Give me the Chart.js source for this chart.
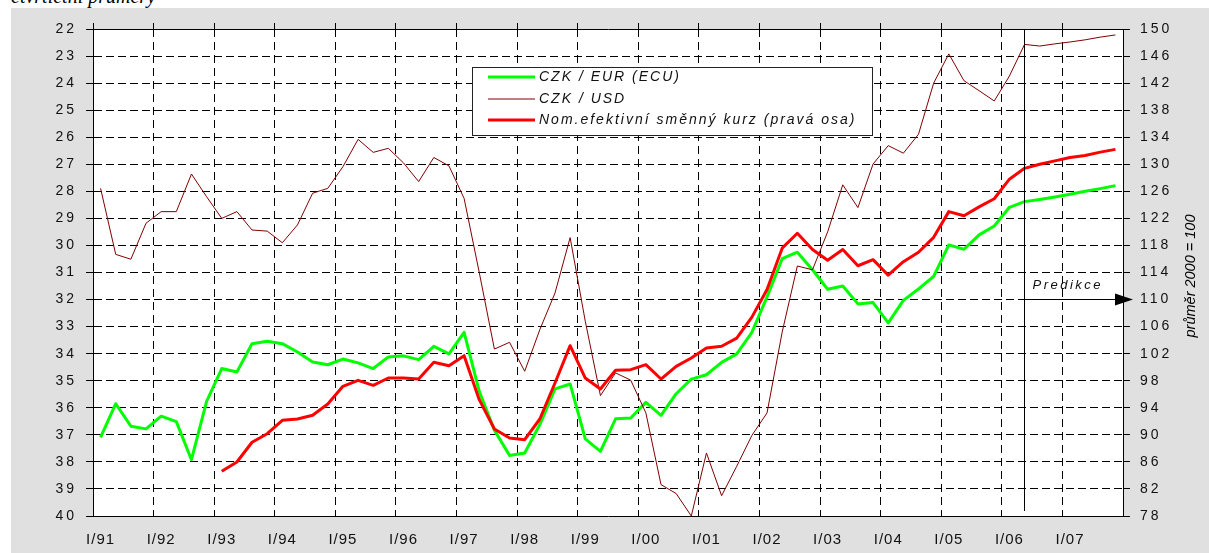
<!DOCTYPE html>
<html>
<head>
<meta charset="utf-8">
<script src="https://cdn.jsdelivr.net/npm/chart.js@4.4.0/dist/chart.umd.min.js"></script>
<style>
html, body { margin: 0; padding: 0; background: #fff; overflow: hidden; }
#wrap { position: relative; width: 1209px; height: 553px; }
#bg { position: absolute; left: 11px; top: 8px; right: 0; bottom: 0; background: #e0e0e0; }
#title { position: absolute; left: 11px; top: -15px; font: italic 20px "Liberation Serif", serif; white-space: nowrap; color: #000; }
#rtitle { position: absolute; left: 1090px; top: 268px; width: 200px; height: 16px; line-height: 16px; text-align: center;
          font: italic 14.5px "Liberation Sans", Arial, sans-serif; color: #000; transform: rotate(-90deg); white-space: nowrap; }
canvas { position: absolute; left: 0; top: 0; }
</style>
</head>
<body>
<div id="wrap">
  <div id="bg"></div>
  <div id="title">čtvrtletní průměry</div>
  <canvas id="chart" width="1209" height="553"></canvas>
  <div id="rtitle">průměr 2000 = 100</div>
</div>
<script>
// quarters I/91 .. IV/07
const years = ['91','92','93','94','95','96','97','98','99','00','01','02','03','04','05','06','07'];
const quarterNames = ['I','II','III','IV'];
const quarters = [];
years.forEach(y => quarterNames.forEach(q => quarters.push(q + '/' + y)));

// CZK / EUR (ECU), left axis
const czkEur = [
  37.09, 35.85, 36.68, 36.78, 36.31, 36.51, 37.92, 35.76,
  34.55, 34.68, 33.63, 33.54, 33.63, 33.94, 34.31, 34.41,
  34.20, 34.34, 34.55, 34.12, 34.08, 34.22, 33.73, 34.01,
  33.21, 35.39, 36.83, 37.76, 37.67, 36.62, 35.30, 35.12,
  37.15, 37.61, 36.41, 36.38, 35.80, 36.28, 35.48, 34.94,
  34.78, 34.32, 34.01, 33.21, 31.90, 30.49, 30.25, 30.90,
  31.62, 31.50, 32.16, 32.11, 32.86, 32.03, 31.61, 31.14,
  29.98, 30.14, 29.61, 29.28, 28.59, 28.38, 28.30, 28.21,
  28.11, 28.00, 27.90, 27.79
];

// CZK / USD, left axis
const czkUsd = [
  27.89, 30.33, 30.51, 29.18, 28.75, 28.75, 27.36, 28.20,
  29.00, 28.75, 29.43, 29.47, 29.90, 29.24, 28.07, 27.89,
  27.09, 26.08, 26.56, 26.41, 26.95, 27.64, 26.75, 27.06,
  28.26, 31.00, 33.83, 33.58, 34.65, 33.11, 31.76, 29.71,
  32.80, 35.55, 34.71, 34.98, 36.19, 38.84, 39.17, 40.00,
  37.67, 39.25, 38.16, 37.02, 36.19, 33.20, 30.76, 30.90,
  29.50, 27.76, 28.60, 26.99, 26.31, 26.59, 25.89, 24.00,
  22.92, 23.91, 24.28, 24.66, 23.74, 22.57, 22.63, 22.55,
  22.48, 22.40, 22.30, 22.22
];

// nominal effective exchange rate, right axis (2000 = 100)
const nomEff = [
  null, null, null, null, null, null, null, null,
  84.61, 85.98, 88.90, 90.17, 92.15, 92.34, 92.89, 94.56,
  97.17, 98.06, 97.32, 98.40, 98.40, 98.25, 100.72, 100.22,
  101.70, 95.20, 90.86, 89.53, 89.28, 92.34, 97.66, 103.18,
  98.40, 96.78, 99.54, 99.63, 100.37, 98.25, 100.13, 101.36,
  102.84, 103.09, 104.30, 107.40, 111.50, 117.60, 119.80, 117.40,
  115.80, 117.40, 115.00, 115.90, 113.60, 115.60, 117.00, 119.20,
  123.00, 122.40, 123.70, 124.90, 127.80, 129.40, 130.00, 130.50,
  131.00, 131.30, 131.80, 132.20
];

const leftTicks = { min: 22, max: 40, step: 1 };
const rightTicks = { min: 78, max: 150, step: 4 };
const predictionStart = 61;   // II/06
const predictionLevel = 110;  // arrow height on right axis

const FONT = '"Liberation Sans", Arial, sans-serif';
Chart.defaults.font.family = FONT;
Chart.defaults.font.size = 14;
Chart.defaults.color = '#111';

const yearLine = c => (c.index % 4 === 0 ? 1 : 0);
const crisp = p => Math.round(p - 0.5) + 0.5;

const decor = {
  id: 'decor',
  beforeUpdate(chart) { chart.ctx.letterSpacing = '3px'; },
  beforeDraw(chart) {
    const { ctx, chartArea: a } = chart;
    ctx.letterSpacing = '3px';
    // x labels are set tighter than the value axes
    const xs = chart.scales.x;
    if (!xs._tight) {
      const orig = xs.drawLabels.bind(xs);
      xs.drawLabels = area => {
        const prev = xs.ctx.letterSpacing;
        xs.ctx.letterSpacing = '1px';
        orig(area);
        xs.ctx.letterSpacing = prev;
      };
      xs._tight = true;
    }
    ctx.save();
    ctx.fillStyle = '#fff';
    ctx.fillRect(a.left, a.top, a.right - a.left, a.bottom - a.top);
    ctx.restore();
  },
  afterDraw(chart) {
    const { ctx, chartArea: a } = chart;
    const xs = chart.scales.x, yr = chart.scales.y1;
    ctx.save();
    ctx.setLineDash([]);
    // prediction marker
    const px = crisp(xs.getPixelForValue(predictionStart));
    const py = crisp(yr.getPixelForValue(predictionLevel));
    ctx.strokeStyle = '#000';
    ctx.lineWidth = 1;
    ctx.beginPath();
    ctx.moveTo(px, a.top);
    ctx.lineTo(px, a.bottom - 5);
    ctx.moveTo(px, py);
    ctx.lineTo(a.right - 8, py);
    ctx.stroke();
    ctx.fillStyle = '#000';
    ctx.beginPath();
    ctx.moveTo(a.right - 8, py - 6);
    ctx.lineTo(a.right + 10, py);
    ctx.lineTo(a.right - 8, py + 6);
    ctx.closePath();
    ctx.fill();
    ctx.letterSpacing = '2.5px';
    ctx.font = 'italic 13px ' + FONT;
    ctx.textBaseline = 'alphabetic';
    ctx.fillStyle = '#111';
    ctx.fillText('Predikce', px + 8, py - 11);

    // legend
    const bx = 472.5, by = 67.5, bw = 400, bh = 68;
    ctx.fillStyle = '#fff';
    ctx.fillRect(bx, by, bw, bh);
    ctx.strokeStyle = '#222';
    ctx.lineWidth = 1;
    ctx.strokeRect(bx, by, bw, bh);
    const rows = [
      { text: 'CZK / EUR (ECU)', color: '#00ff00', w: 3, y: 77 },
      { text: 'CZK / USD', color: '#800000', w: 1, y: 99 },
      { text: 'Nom.efektivní směnný kurz (pravá osa)', color: '#ff0000', w: 3, y: 120 }
    ];
    ctx.font = 'italic 14px ' + FONT;
    ctx.letterSpacing = '2px';
    ctx.textBaseline = 'middle';
    rows.forEach(r => {
      ctx.strokeStyle = r.color;
      ctx.lineWidth = r.w;
      ctx.beginPath();
      ctx.moveTo(488, r.y);
      ctx.lineTo(535, r.y);
      ctx.stroke();
      ctx.fillStyle = '#111';
      ctx.fillText(r.text, 539, r.y);
    });
    ctx.restore();
  }
};

new Chart(document.getElementById('chart').getContext('2d'), {
  type: 'line',
  data: {
    labels: quarters,
    datasets: [
      { label: 'CZK / EUR (ECU)', data: czkEur, yAxisID: 'y', borderColor: '#00ff00', borderWidth: 3, order: 2 },
      { label: 'CZK / USD', data: czkUsd, yAxisID: 'y', borderColor: '#800000', borderWidth: 1, order: 1 },
      { label: 'Nom.efektivní směnný kurz (pravá osa)', data: nomEff, yAxisID: 'y1', borderColor: '#ff0000', borderWidth: 3, order: 0 }
    ]
  },
  options: {
    responsive: false,
    animation: false,
    events: [],
    layout: { padding: 0 },
    elements: { point: { radius: 0 }, line: { tension: 0, borderJoinStyle: 'round' } },
    plugins: { legend: { display: false }, tooltip: { enabled: false } },
    scales: {
      x: {
        position: 'bottom',
        offset: true,
        grid: { offset: true, color: '#000', lineWidth: yearLine, drawTicks: false },
        border: { display: true, color: '#000', width: 1, dash: [8, 5] },
        ticks: {
          autoSkip: false, maxRotation: 0, minRotation: 0, padding: 15,
          font: { size: 15 },
          callback: function (v, i) { return i % 4 === 0 ? this.getLabelForValue(v) : ''; }
        },
        afterFit: s => { s.height = 37; }
      },
      x2: {
        position: 'top',
        offset: true,
        grid: { offset: true, color: '#000', lineWidth: yearLine, drawOnChartArea: false, drawTicks: true, tickLength: 6 },
        border: { display: true, color: '#000', width: 1 },
        ticks: { display: false, autoSkip: false },
        afterFit: s => { s.height = 29; }
      },
      y: {
        position: 'left',
        reverse: true,
        min: leftTicks.min,
        max: leftTicks.max,
        grid: { color: '#000', lineWidth: 1, tickLength: 7 },
        border: { display: true, color: '#000', width: 1, dash: [8, 4] },
        ticks: { stepSize: leftTicks.step, padding: 9 },
        afterFit: s => { s.width = 93; }
      },
      y1: {
        position: 'right',
        min: rightTicks.min,
        max: rightTicks.max,
        grid: { drawOnChartArea: false, color: '#000', tickLength: 7 },
        border: { display: true, color: '#000', width: 1 },
        ticks: { stepSize: rightTicks.step, padding: 10 },
        afterFit: s => { s.width = 86; }
      }
    }
  },
  plugins: [decor]
});
</script>
</body>
</html>
